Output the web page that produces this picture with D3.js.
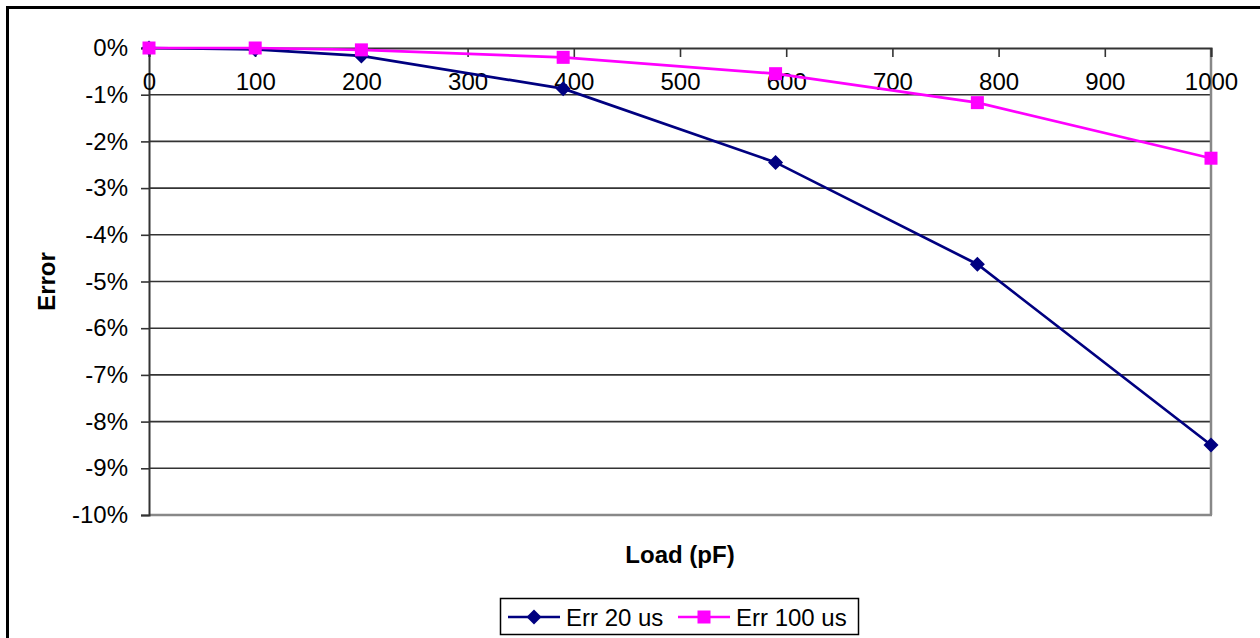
<!DOCTYPE html>
<html><head><meta charset="utf-8">
<script src="https://d3js.org/d3.v7.min.js"></script>
<style>body{margin:0;background:#fff}svg{display:block}</style>
</head><body>
<script>
const loads = [0, 100, 200, 390, 590, 780, 1000];
const err20 = [0, -0.0003, -0.0017, -0.0087, -0.0245, -0.0463, -0.085];
const err100 = [0, 0, -0.0004, -0.002, -0.0055, -0.0117, -0.0236];
const xTicks = [0,100,200,300,400,500,600,700,800,900,1000];
const yTicks = [0,-0.01,-0.02,-0.03,-0.04,-0.05,-0.06,-0.07,-0.08,-0.09,-0.1];
const seriesNames = ["Err 20 us", "Err 100 us"];

const W = 1260, H = 638;
const svg = d3.select("body").append("svg").attr("width", W).attr("height", H);
const font = "'Liberation Sans', Arial, sans-serif";

svg.append("rect").attr("x",7.5).attr("y",7.5).attr("width",1400).attr("height",800)
  .attr("fill","#fff").attr("stroke","#000").attr("stroke-width",3);

const L = 149, R = 1211, T = 48, B = 515;
const x = d3.scaleLinear().domain([0,1000]).range([L,R]);
const y = d3.scaleLinear().domain([-0.1,0]).range([B,T]);

// gridlines
svg.append("g").selectAll("line").data(yTicks.filter(d=>d<0 && d>-0.1)).join("line")
  .attr("x1",L).attr("x2",R).attr("y1",d=>y(d)).attr("y2",d=>y(d))
  .attr("stroke","#333").attr("stroke-width",1.6);

// plot border right & bottom (gray)
svg.append("line").attr("x1",R).attr("x2",R).attr("y1",T).attr("y2",B).attr("stroke","#888").attr("stroke-width",2.5);
svg.append("line").attr("x1",L).attr("x2",R+1).attr("y1",B).attr("y2",B).attr("stroke","#888").attr("stroke-width",2.5);

// y axis
const yAxis = d3.axisLeft(y).tickValues(yTicks).tickSize(8).tickPadding(13)
  .tickFormat(d=>Math.round(d*100)+"%");
const gy = svg.append("g").attr("transform",`translate(${L},0)`).call(yAxis);
gy.select(".domain").attr("stroke","#333").attr("stroke-width",2);
gy.selectAll(".tick line").attr("stroke","#333").attr("stroke-width",1.6);
gy.selectAll("text").attr("font-family",font).attr("font-size",24).attr("fill","#000");

// x axis at y=0 (top), ticks pointing down into plot, labels below
const xAxis = d3.axisBottom(x).tickValues(xTicks).tickSize(9).tickPadding(16).tickFormat(d3.format("d"));
const gx = svg.append("g").attr("transform",`translate(0,${y(0)})`).call(xAxis);
gx.select(".domain").attr("stroke","#333").attr("stroke-width",2);
gx.selectAll(".tick line").attr("stroke","#333").attr("stroke-width",1.6);
gx.selectAll("text").attr("font-family",font).attr("font-size",24).attr("fill","#000");

// axis titles
svg.append("text").attr("x",(L+R)/2).attr("y",563).attr("text-anchor","middle")
  .attr("font-family",font).attr("font-size",24).attr("font-weight","bold").text("Load (pF)");
svg.append("text").attr("transform",`translate(55,${(T+B)/2}) rotate(-90)`).attr("text-anchor","middle")
  .attr("font-family",font).attr("font-size",24).attr("font-weight","bold").text("Error");

// series
const line = d3.line().x(d=>x(d[0])).y(d=>y(d[1]));
const s20 = loads.map((l,i)=>[l,err20[i]]);
const s100 = loads.map((l,i)=>[l,err100[i]]);
const navy = "#000080", mag = "#FF00FF";
const diamond = (cx,cy,r)=>`M${cx},${cy-r}L${cx+r},${cy}L${cx},${cy+r}L${cx-r},${cy}Z`;

svg.append("path").datum(s20).attr("d",line).attr("fill","none").attr("stroke",navy).attr("stroke-width",2.7);
svg.append("g").selectAll("path").data(s20).join("path")
  .attr("d",d=>diamond(x(d[0]),y(d[1]),7.5))
  .attr("fill",navy);

svg.append("path").datum(s100).attr("d",line).attr("fill","none").attr("stroke",mag).attr("stroke-width",2.7);
svg.append("g").selectAll("rect").data(s100).join("rect")
  .attr("x",d=>x(d[0])-6.5).attr("y",d=>y(d[1])-6.5).attr("width",13).attr("height",13).attr("fill",mag);

// legend
const lg = svg.append("g");
lg.append("rect").attr("x",500.5).attr("y",598.5).attr("width",358).attr("height",36)
  .attr("fill","#fff").attr("stroke","#000").attr("stroke-width",1.5);
const legendItems = [
  {name: seriesNames[0], color: navy, x0: 508, shape: "diamond", tx: 566},
  {name: seriesNames[1], color: mag, x0: 678, shape: "square", tx: 736}
];
const ly = 617;
legendItems.forEach(it=>{
  lg.append("line").attr("x1",it.x0).attr("x2",it.x0+52).attr("y1",ly).attr("y2",ly)
    .attr("stroke",it.color).attr("stroke-width",2.7);
  const cx = it.x0+26;
  if (it.shape==="diamond") {
    lg.append("path").attr("d",diamond(cx,ly,7.5)).attr("fill",it.color);
  } else {
    lg.append("rect").attr("x",cx-6.5).attr("y",ly-6.5).attr("width",13).attr("height",13).attr("fill",it.color);
  }
  lg.append("text").attr("x",it.tx).attr("y",ly+8.5).attr("font-family",font).attr("font-size",24)
    .attr("fill","#000").text(it.name);
});
</script>
</body></html>
